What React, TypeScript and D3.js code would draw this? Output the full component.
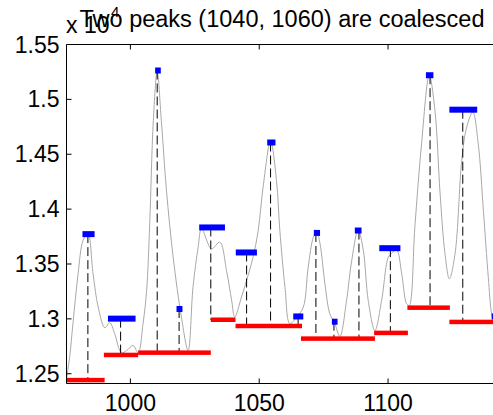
import React from "react";
import * as d3 from "d3";

// ---- data (values in raw units; y axis shown as x10^4) ----
const curveX = [975.3, 976.5, 977.7, 979.7, 981.6, 983.5, 985.5, 987.5, 990.1, 992.0, 993.9, 996.5, 998.6, 1001.0, 1003.0, 1004.9, 1006.3, 1007.5, 1008.9, 1010.4, 1012.0, 1014.0, 1016.6, 1019.8, 1022.4, 1024.3, 1026.3, 1027.6, 1031.5, 1034.7, 1037.3, 1039.3, 1040.5, 1043.1, 1045.1, 1047.6, 1049.6, 1051.5, 1054.4, 1056.7, 1058.0, 1060.0, 1061.9, 1064.5, 1067.1, 1069.0, 1071.0, 1072.3, 1073.6, 1075.5, 1077.4, 1079.2, 1081.3, 1083.9, 1085.9, 1088.4, 1090.4, 1092.3, 1094.9, 1097.5, 1100.1, 1101.4, 1103.3, 1105.3, 1107.2, 1108.2, 1110.4, 1113.0, 1116.0, 1118.2, 1120.2, 1122.1, 1123.8, 1126.0, 1128.6, 1130.5, 1132.9, 1135.0, 1137.0, 1138.9, 1140.2, 1141.5];
const curveY = [12466, 12667, 12956, 13411, 13714, 13783, 13411, 13107, 12919, 12965, 12864, 12691, 12712, 12758, 12691, 12956, 13259, 13869, 14807, 15254, 14807, 14170, 13562, 13016, 12712, 13289, 13653, 13821, 13639, 13699, 13441, 13168, 13016, 13198, 13350, 13562, 13805, 14200, 14616, 14261, 13805, 13289, 12956, 13016, 13107, 13471, 13744, 13796, 13684, 13320, 13047, 12967, 12840, 13168, 13532, 13810, 13623, 13168, 12894, 13168, 13562, 13596, 13630, 13411, 13138, 13122, 13836, 14595, 15217, 14899, 14140, 13593, 13365, 13593, 14443, 14746, 14883, 14595, 13988, 13380, 13047, 12940];

// peaks: location, height, width-bar extents, base level
const peakX = [983.5, 996.2, 1010.4, 1018.9, 1031.2, 1045.1, 1054.4, 1065.1, 1072.0, 1079.0, 1088.7, 1100.9, 1116.3, 1129.0, 1142.3];
const peakY = [13772, 13002, 15263, 13090, 13833, 13605, 14607, 13022, 13783, 12974, 13805, 13644, 15220, 14906, 13022];
const peakLeft = [981.4, 991.3, 1009.6, 1017.9, 1026.7, 1040.9, 1053.1, 1063.2, 1071.2, 1078.2, 1087.1, 1096.6, 1114.7, 1123.8, 1140.2];
const peakRight = [986.1, 1002.0, 1011.8, 1020.2, 1036.7, 1049.1, 1056.3, 1067.1, 1073.6, 1080.4, 1089.7, 1104.8, 1117.6, 1134.6, 1143.0];
const peakBase = [12442, 12671, 12692, 12692, 12992, 12935, 12935, 12935, 12820, 12820, 12820, 12872, 13102, 12972, 12972];

// base segments
const baseLeft = [975.2, 989.7, 1003.0, 1031.2, 1040.8, 1066.2, 1094.6, 1107.5, 1123.8];
const baseRight = [990.0, 1003.0, 1031.2, 1040.8, 1066.6, 1094.9, 1107.7, 1124.0, 1142.4];
const baseY = [12442, 12671, 12692, 12992, 12935, 12820, 12872, 13102, 12972];

const xTicks = [1000, 1050, 1100];
const yTicks = [12500, 13000, 13500, 14000, 14500, 15000, 15500];
const yTickLabels = ["1.25", "1.3", "1.35", "1.4", "1.45", "1.5", "1.55"];
const titleText = "Two peaks (1040, 1060) are coalesced";

const W = 493;
const H = 415;
const FONT = "'Liberation Sans', Arial, Helvetica, sans-serif";

export default function App() {
  const left = 66.5, right = 497.3, top = 44.5, bottom = 383.5;
  const x = d3.scaleLinear().domain([975.2, 1142.4]).range([left, right]);
  const y = d3.scaleLinear().domain([12411, 15500]).range([bottom, top]);

  const pts: [number, number][] = curveX.map((v, i) => [v, curveY[i]]);
  const line = d3
    .line<[number, number]>()
    .x((d) => x(d[0]))
    .y((d) => y(d[1]))
    .curve(d3.curveCatmullRom.alpha(0.5));

  return (
    <svg
      width={W}
      height={H}
      style={{ position: "absolute", left: 0, top: 0, background: "#fff" }}
      fontFamily={FONT}
    >
      <defs>
        <clipPath id="plotclip">
          <rect x={left} y={top} width={right - left} height={bottom - top} />
        </clipPath>
      </defs>
      <rect x={0} y={0} width={W} height={H} fill="#fff" />
      <g clipPath="url(#plotclip)">
        <path d={line(pts) || ""} fill="none" stroke="#a8a8a8" strokeWidth={1} />
        {peakX.map((px, i) => (
          <line
            key={"d" + i}
            x1={x(px)}
            x2={x(px)}
            y1={y(peakY[i])}
            y2={y(peakBase[i])}
            stroke="#000"
            strokeWidth={1}
            strokeDasharray="9,4"
          />
        ))}
        {baseY.map((b, i) => (
          <rect
            key={"r" + i}
            x={x(baseLeft[i])}
            y={y(b) - 2.25}
            width={x(baseRight[i]) - x(baseLeft[i])}
            height={4.5}
            fill="#ff0000"
          />
        ))}
        {peakY.map((p, i) => (
          <rect
            key={"b" + i}
            x={x(peakLeft[i])}
            y={y(p) - 3}
            width={x(peakRight[i]) - x(peakLeft[i])}
            height={6}
            fill="#0000ff"
          />
        ))}
      </g>
      {/* axes box */}
      <line x1={left} x2={left} y1={top} y2={bottom} stroke="#000" strokeWidth={1} />
      <line x1={left} x2={right} y1={top} y2={top} stroke="#000" strokeWidth={1} />
      <line x1={left} x2={right} y1={bottom} y2={bottom} stroke="#000" strokeWidth={1} />
      <line x1={right} x2={right} y1={top} y2={bottom} stroke="#000" strokeWidth={1} />
      {xTicks.map((t) => (
        <g key={"xt" + t}>
          <line x1={x(t)} x2={x(t)} y1={bottom} y2={bottom - 5} stroke="#000" />
          <line x1={x(t)} x2={x(t)} y1={top} y2={top + 5} stroke="#000" />
          <text x={x(t)} y={bottom + 27} textAnchor="middle" fontSize={23}>
            {String(t)}
          </text>
        </g>
      ))}
      {yTicks.map((t, i) => (
        <g key={"yt" + t}>
          <line x1={left} x2={left + 5} y1={y(t)} y2={y(t)} stroke="#000" />
          <text x={left - 7} y={y(t) + 8} textAnchor="end" fontSize={23}>
            {yTickLabels[i]}
          </text>
        </g>
      ))}
      <text x={66} y={33} fontSize={23}>x 10</text>
      <text x={111} y={17} fontSize={15}>4</text>
      <text x={282} y={27} textAnchor="middle" fontSize={23.5}>
        {titleText}
      </text>
    </svg>
  );
}
